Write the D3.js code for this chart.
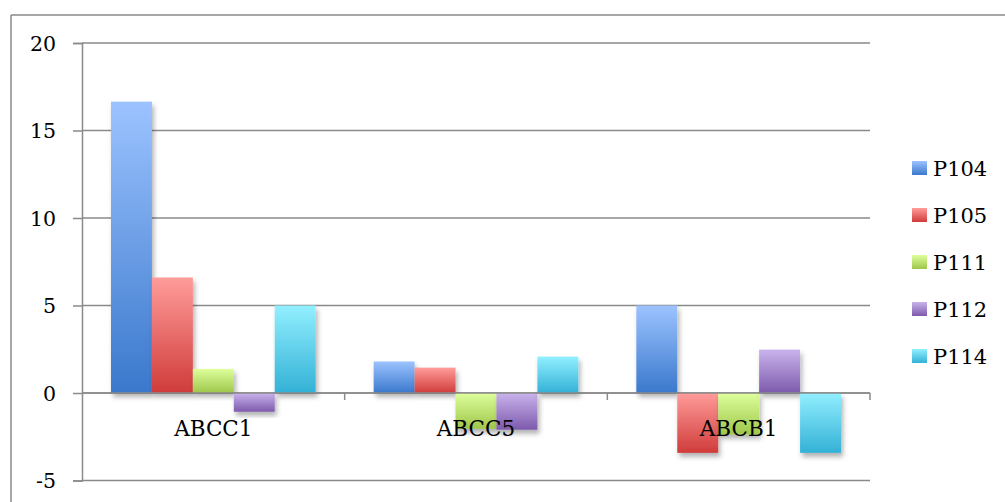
<!DOCTYPE html>
<html><head><meta charset="utf-8">
<script src="https://cdn.jsdelivr.net/npm/d3@7"></script>
<style>html,body{margin:0;padding:0;background:#fff;}svg{display:block;}</style>
</head><body>
<script>
const categories = ["ABCC1", "ABCC5", "ABCB1"];
const seriesNames = ["P104", "P105", "P111", "P112", "P114"];
const P104 = [16.65, 1.8, 5.0];
const P105 = [6.6, 1.45, -3.42];
const P111 = [1.38, -2.05, -2.38];
const P112 = [-1.07, -2.1, 2.48];
const P114 = [5.0, 2.08, -3.42];
const yTicks = [-5, 0, 5, 10, 15, 20];
const seriesValues = [P104, P105, P111, P112, P114];
const gradTop = ["#9cc3ff", "#ff9c9a", "#deff9c", "#c9b3ec", "#92efff"];
const gradBot = ["#3a78cc", "#cf3c3a", "#9ec64a", "#7d5aac", "#33b1d6"];

const W = 1005, H = 502;
const svg = d3.select("body").append("svg").attr("width", W).attr("height", H);
const defs = svg.append("defs");
seriesNames.forEach((s, i) => {
  const g = defs.append("linearGradient").attr("id", "g" + i)
    .attr("x1", 0).attr("y1", 0).attr("x2", 0).attr("y2", 1);
  g.append("stop").attr("offset", "0%").attr("stop-color", gradTop[i]);
  g.append("stop").attr("offset", "100%").attr("stop-color", gradBot[i]);
});
const f = defs.append("filter").attr("id", "sh").attr("x", "-20%").attr("y", "-20%").attr("width", "150%").attr("height", "150%");
f.append("feDropShadow").attr("dx", 2).attr("dy", 4).attr("stdDeviation", 2.5)
  .attr("flood-color", "#000").attr("flood-opacity", 0.3);

const font = "'DejaVu Serif', serif";
const grey = "#8a8a8a";

// outer frame
svg.append("line").attr("x1", 11).attr("x2", W).attr("y1", 15).attr("y2", 15).attr("stroke", grey).attr("stroke-width", 1.5);
svg.append("line").attr("x1", 11).attr("x2", 11).attr("y1", 15).attr("y2", H).attr("stroke", grey).attr("stroke-width", 1.5);

const x0 = d3.scaleBand().domain(categories).range([82, 870]).paddingInner(0).paddingOuter(0);
const x1 = d3.scaleBand().domain(seriesNames).range([29, x0.bandwidth() - 29]).padding(0);
const y = d3.scaleLinear().domain([-5, 20]).range([480.5, 43]);

// gridlines + y tick marks
const yAxis = d3.axisLeft(y).tickValues(yTicks).tickSize(9).tickFormat(d => String(d));
const ga = svg.append("g").attr("transform", "translate(82,0)").call(yAxis);
ga.select(".domain").attr("stroke", grey).attr("stroke-width", 1.5);
ga.selectAll(".tick line").attr("stroke", grey).attr("stroke-width", 1.5);
ga.selectAll(".tick text").attr("x", -26).attr("font-family", font).attr("font-size", 20.5).attr("fill", "#000").attr("dy", "0.35em");
svg.append("g").selectAll("line").data(yTicks).join("line")
  .attr("x1", 82).attr("x2", 870).attr("y1", d => y(d)).attr("y2", d => y(d))
  .attr("stroke", grey).attr("stroke-width", 1.5);

// bars
const groups = svg.append("g").selectAll("g").data(categories).join("g")
  .attr("transform", c => `translate(${x0(c)},0)`);
groups.selectAll("rect").data((c, ci) => seriesNames.map((s, si) => ({s, si, v: seriesValues[si][ci]})))
  .join("rect")
  .attr("x", d => x1(d.s)).attr("width", x1.bandwidth())
  .attr("y", d => y(Math.max(0, d.v))).attr("height", d => Math.abs(y(d.v) - y(0)))
  .attr("fill", d => `url(#g${d.si})`).attr("filter", "url(#sh)");

// zero axis with category ticks
svg.append("line").attr("x1", 82).attr("x2", 870).attr("y1", y(0)).attr("y2", y(0)).attr("stroke", grey).attr("stroke-width", 1.5);
const catEdges = categories.map(c => x0(c)).concat([x0(categories[categories.length - 1]) + x0.bandwidth()]);
svg.append("g").selectAll("line").data(catEdges.slice(1)).join("line")
  .attr("x1", d => d).attr("x2", d => d).attr("y1", y(0)).attr("y2", y(0) + 7)
  .attr("stroke", grey).attr("stroke-width", 1.5);

// category labels
svg.append("g").selectAll("text").data(categories).join("text")
  .attr("x", c => x0(c) + x0.bandwidth() / 2).attr("y", 436)
  .attr("text-anchor", "middle").attr("font-family", font).attr("font-size", 21.5).attr("fill", "#000")
  .text(c => c);

// legend
const lg = svg.append("g").selectAll("g").data(seriesNames).join("g")
  .attr("transform", (s, i) => `translate(912,${168 + i * 47})`);
lg.append("rect").attr("x", 0).attr("y", -7).attr("width", 15).attr("height", 14).attr("fill", (s, i) => `url(#g${i})`);
lg.append("text").attr("x", 21).attr("y", 0).attr("dy", "0.36em").attr("font-family", font).attr("font-size", 21).attr("fill", "#000").text(s => s);
</script>
</body></html>
